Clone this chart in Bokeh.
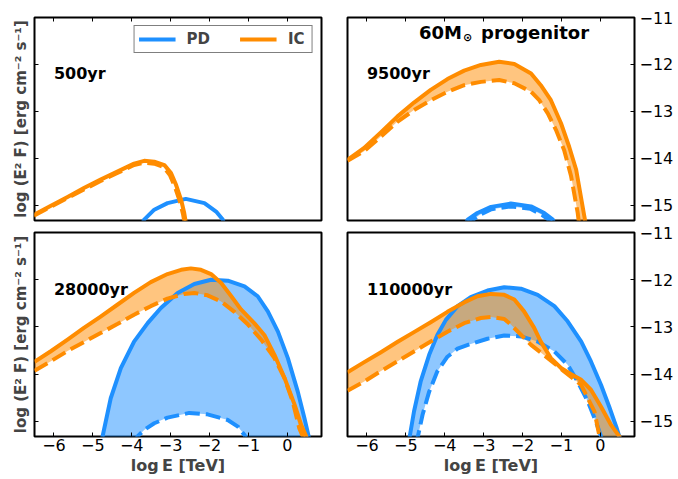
from bokeh.plotting import figure
from bokeh.models import Label, Legend, LegendItem, FixedTicker, CustomJSTickFormatter
from bokeh.layouts import column, row
from bokeh.embed import file_html
from bokeh.resources import INLINE

FONT = "DejaVu Sans"
BLUE = "#1e90ff"
ORANGE = "#ff8c00"

x_ticks = [-6, -5, -4, -3, -2, -1, 0]
y_ticks = [-15, -14, -13, -12, -11]
x_limits = (-6.5, 0.88)
y_limits = (-15.32, -11.0)

x_label = "log\u2009E [TeV]"
y_label = "log (E\u00b2 F) [erg cm\u207b\u00b2 s\u207b\u00b9]"
legend_labels = ["PD", "IC"]
ages = ["500yr", "9500yr", "28000yr", "110000yr"]

# ---- 500 yr ----
ic_500_solid_x = [-6.52, -6.09, -5.65, -5.23, -4.8, -4.37, -3.94, -3.68, -3.42, -3.16, -2.99, -2.86, -2.73, -2.65, -2.58]
ic_500_solid_y = [-15.2, -15.01, -14.82, -14.63, -14.45, -14.28, -14.11, -14.05, -14.07, -14.14, -14.31, -14.56, -14.88, -15.16, -15.5]
ic_500_dash_x = [-6.52, -6.09, -5.65, -5.23, -4.8, -4.37, -3.94, -3.68, -3.42, -3.18, -3.02, -2.89, -2.76, -2.68, -2.61]
ic_500_dash_y = [-15.22, -15.03, -14.84, -14.66, -14.48, -14.31, -14.14, -14.09, -14.11, -14.18, -14.35, -14.6, -14.92, -15.19, -15.5]
pd_500_solid_x = [-3.78, -3.68, -3.42, -3.08, -2.61, -2.13, -1.83, -1.66, -1.58]
pd_500_solid_y = [-15.5, -15.3, -15.09, -14.95, -14.86, -14.95, -15.13, -15.3, -15.5]
pd_500_dash_x = []
pd_500_dash_y = []

# ---- 9500 yr ----
ic_9500_solid_x = [-6.5, -6.08, -5.65, -5.22, -4.79, -4.36, -3.93, -3.5, -3.07, -2.6, -2.21, -1.78, -1.53, -1.27, -1.01, -0.8, -0.62, -0.41, -0.35]
ic_9500_solid_y = [-14.03, -13.78, -13.45, -13.11, -12.81, -12.54, -12.31, -12.13, -12.01, -11.94, -11.99, -12.19, -12.44, -12.76, -13.25, -13.75, -14.24, -15.23, -15.5]
ic_9500_dash_x = [-6.5, -6.08, -5.65, -5.22, -4.79, -4.36, -3.93, -3.5, -3.07, -2.6, -2.21, -1.78, -1.57, -1.35, -1.14, -0.93, -0.75, -0.58, -0.53]
ic_9500_dash_y = [-14.05, -13.85, -13.54, -13.22, -12.97, -12.76, -12.58, -12.44, -12.37, -12.33, -12.4, -12.58, -12.76, -13.04, -13.39, -13.82, -14.38, -15.16, -15.5]
pd_9500_solid_x = [-3.5, -3.41, -3.16, -2.81, -2.3, -1.78, -1.44, -1.22, -1.15]
pd_9500_solid_y = [-15.5, -15.3, -15.16, -15.03, -14.96, -15.02, -15.16, -15.3, -15.5]
pd_9500_dash_x = [-3.4, -3.3, -3.1, -2.8, -2.3, -1.8, -1.5, -1.3, -1.22]
pd_9500_dash_y = [-15.5, -15.32, -15.2, -15.08, -15.02, -15.07, -15.2, -15.32, -15.5]

# ---- 28000 yr ----
ic_28000_solid_x = [-6.5, -6.09, -5.65, -5.23, -4.8, -4.37, -3.94, -3.51, -3.08, -2.73, -2.48, -2.22, -1.96, -1.7, -1.44, -1.19, -0.85, -0.59, -0.33, -0.07, 0.19, 0.36, 0.49, 0.55]
ic_28000_solid_y = [-13.74, -13.52, -13.27, -13.02, -12.78, -12.53, -12.28, -12.05, -11.88, -11.79, -11.76, -11.79, -11.88, -12.07, -12.35, -12.63, -12.92, -13.17, -13.59, -14.08, -14.65, -15.08, -15.32, -15.5]
ic_28000_dash_x = [-6.5, -6.09, -5.65, -5.23, -4.8, -4.37, -3.94, -3.51, -3.08, -2.65, -2.39, -2.05, -1.7, -1.36, -1.01, -0.67, -0.33, -0.07, 0.14, 0.31, 0.4, 0.45]
ic_28000_dash_y = [-13.93, -13.73, -13.51, -13.32, -13.13, -12.94, -12.74, -12.56, -12.4, -12.3, -12.28, -12.33, -12.46, -12.68, -12.95, -13.27, -13.66, -14.09, -14.58, -15.15, -15.32, -15.5]
pd_28000_solid_x = [-4.85, -4.75, -4.54, -4.28, -3.94, -3.59, -3.25, -2.82, -2.39, -1.96, -1.53, -1.1, -0.76, -0.5, -0.24, 0.015, 0.27, 0.44, 0.55, 0.6]
pd_28000_solid_y = [-15.55, -15.32, -14.51, -13.87, -13.31, -12.92, -12.6, -12.28, -12.09, -12.0, -12.02, -12.14, -12.35, -12.67, -13.1, -13.66, -14.37, -14.93, -15.32, -15.5]
pd_28000_dash_x = [-3.95, -3.85, -3.68, -3.42, -3.08, -2.52, -2.05, -1.53, -1.27, -1.1, -1.0]
pd_28000_dash_y = [-15.5, -15.32, -15.18, -15.04, -14.92, -14.82, -14.85, -14.97, -15.11, -15.29, -15.5]

# ---- 110000 yr ----
ic_110000_solid_x = [-6.5, -6.08, -5.65, -5.22, -4.79, -4.36, -3.93, -3.5, -3.16, -2.81, -2.47, -2.21, -1.96, -1.7, -1.53, -1.27, -1.01, -0.75, -0.49, -0.24, 0.02, 0.28, 0.49, 0.58]
ic_110000_solid_y = [-13.96, -13.75, -13.54, -13.32, -13.11, -12.9, -12.68, -12.48, -12.35, -12.3, -12.32, -12.42, -12.67, -13.02, -13.31, -13.66, -13.87, -14.0, -14.12, -14.33, -14.69, -15.08, -15.32, -15.5]
ic_110000_dash_x = [-6.5, -6.08, -5.65, -5.22, -4.79, -4.36, -3.93, -3.5, -3.07, -2.81, -2.47, -2.3, -1.78, -1.35, -0.93, -0.49, -0.15, -0.02, 0.05]
ic_110000_dash_y = [-14.35, -14.16, -13.94, -13.73, -13.52, -13.31, -13.1, -12.92, -12.81, -12.79, -12.83, -12.95, -13.38, -13.66, -13.94, -14.23, -14.79, -15.32, -15.5]
pd_110000_solid_x = [-4.95, -4.9, -4.79, -4.62, -4.4, -4.19, -3.97, -3.67, -3.33, -2.9, -2.47, -2.04, -1.61, -1.18, -0.84, -0.49, -0.24, 0.02, 0.23, 0.41, 0.49, 0.55]
pd_110000_solid_y = [-15.5, -15.32, -14.79, -14.16, -13.59, -13.17, -12.85, -12.56, -12.37, -12.23, -12.16, -12.19, -12.32, -12.56, -12.88, -13.31, -13.73, -14.23, -14.69, -15.11, -15.32, -15.5]
pd_110000_dash_x = [-4.73, -4.69, -4.57, -4.4, -4.19, -3.93, -3.67, -3.33, -2.9, -2.47, -2.04, -1.61, -1.18, -0.84, -0.58, -0.32, -0.11, 0.02, 0.06]
pd_110000_dash_y = [-15.5, -15.32, -14.86, -14.37, -13.94, -13.63, -13.46, -13.36, -13.25, -13.18, -13.2, -13.31, -13.52, -13.8, -14.16, -14.58, -15.01, -15.32, -15.5]

panels = [
    (ages[0], pd_500_solid_x, pd_500_solid_y, pd_500_dash_x, pd_500_dash_y,
     ic_500_solid_x, ic_500_solid_y, ic_500_dash_x, ic_500_dash_y),
    (ages[1], pd_9500_solid_x, pd_9500_solid_y, pd_9500_dash_x, pd_9500_dash_y,
     ic_9500_solid_x, ic_9500_solid_y, ic_9500_dash_x, ic_9500_dash_y),
    (ages[2], pd_28000_solid_x, pd_28000_solid_y, pd_28000_dash_x, pd_28000_dash_y,
     ic_28000_solid_x, ic_28000_solid_y, ic_28000_dash_x, ic_28000_dash_y),
    (ages[3], pd_110000_solid_x, pd_110000_solid_y, pd_110000_dash_x, pd_110000_dash_y,
     ic_110000_solid_x, ic_110000_solid_y, ic_110000_dash_x, ic_110000_dash_y),
]

minus_fmt = CustomJSTickFormatter(code="return (tick < 0 ? '\u2212' : '') + Math.abs(tick).toFixed(0);")


def style_axis(ax, labels):
    ax.axis_line_color = None
    ax.major_tick_in = 4
    ax.major_tick_out = 0
    ax.minor_tick_in = 0
    ax.minor_tick_out = 0
    ax.major_tick_line_color = "black"
    ax.major_tick_line_width = 1
    ax.formatter = minus_fmt
    if labels:
        ax.major_label_text_font = FONT
        ax.major_label_text_font_size = "16px"
        ax.major_label_text_color = "black"
    else:
        ax.major_label_text_font_size = "1px"
        ax.major_label_text_color = None
        ax.major_label_standoff = 0


def make_panel(i, data):
    top = i < 2
    left = i % 2 == 0
    age, psx, psy, pdx, pdy, isx, isy, idx_, idy = data
    p = figure(frame_width=287, frame_height=203 if top else 204,
               x_range=x_limits, y_range=y_limits,
               x_axis_location="above" if top else "below",
               y_axis_location="left" if left else "right",
               output_backend="svg", toolbar_location=None,
               min_border_left=34 if left else 14,
               min_border_right=12 if left else 44,
               min_border_top=17 if top else 7,
               min_border_bottom=5 if top else 43)
    p.background_fill_color = "white"
    p.border_fill_color = "white"
    p.outline_line_color = "black"
    p.outline_line_width = 2
    p.grid.visible = False

    xa = p.xaxis[0]
    ya = p.yaxis[0]
    xa.ticker = FixedTicker(ticks=x_ticks)
    ya.ticker = FixedTicker(ticks=y_ticks)
    style_axis(xa, not top)
    style_axis(ya, not left)
    if not top:
        xa.major_label_standoff = 2
        xa.axis_label = x_label
        xa.axis_label_text_font = FONT
        xa.axis_label_text_font_style = "bold"
        xa.axis_label_text_font_size = "16px"
        xa.axis_label_standoff = 2
    if left:
        ya.axis_label = y_label
        ya.axis_label_text_font = FONT
        ya.axis_label_text_font_style = "bold"
        ya.axis_label_text_font_size = "15px"
        ya.axis_label_standoff = 5
    else:
        ya.major_label_standoff = 5

    # fills
    if pdx:
        p.patch(x=list(psx) + list(pdx[::-1]), y=list(psy) + list(pdy[::-1]),
                fill_color=BLUE, fill_alpha=0.5, line_color=None)
    p.patch(x=list(isx) + list(idx_[::-1]), y=list(isy) + list(idy[::-1]),
            fill_color=ORANGE, fill_alpha=0.5, line_color=None)
    # lines
    pd_line = p.line(psx, psy, line_color=BLUE, line_width=4, line_join="round")
    if pdx:
        p.line(pdx, pdy, line_color=BLUE, line_width=4, line_dash="15 6")
    ic_line = p.line(isx, isy, line_color=ORANGE, line_width=4, line_join="round")
    p.line(idx_, idy, line_color=ORANGE, line_width=4, line_dash="15 6")

    p.add_layout(Label(x=-6.0, y=-12.2, text=age, text_font=FONT, text_font_style="bold",
                       text_font_size="16px", text_baseline="middle", text_color="black"))
    return p, pd_line, ic_line


figs = [make_panel(i, d) for i, d in enumerate(panels)]

p1, pd_r, ic_r = figs[0]
legend = Legend(items=[LegendItem(label=legend_labels[0], renderers=[pd_r]),
                       LegendItem(label=legend_labels[1], renderers=[ic_r])],
                location="top_right", orientation="horizontal", margin=8,
                padding=4, spacing=30, label_standoff=11, glyph_width=37, glyph_height=18,
                label_height=18, label_text_font=FONT, label_text_font_style="bold",
                label_text_font_size="15px", border_line_color="black", border_line_width=1,
                background_fill_alpha=1.0)
p1.add_layout(legend)

p2 = figs[1][0]
for txt, off, size, yoff in [("60M", 0, "18px", 0), ("\u2299", 44, "11px", -5), ("progenitor", 62, "18px", 0)]:
    p2.add_layout(Label(x=-4.66, y=-11.32, x_offset=off, y_offset=yoff, text=txt, text_font=FONT,
                        text_font_style="bold", text_font_size=size, text_baseline="middle",
                        text_color="black"))

layout = column(row(figs[0][0], figs[1][0]), row(figs[2][0], figs[3][0]))

open("out.html", "w").write(file_html(layout, INLINE))
